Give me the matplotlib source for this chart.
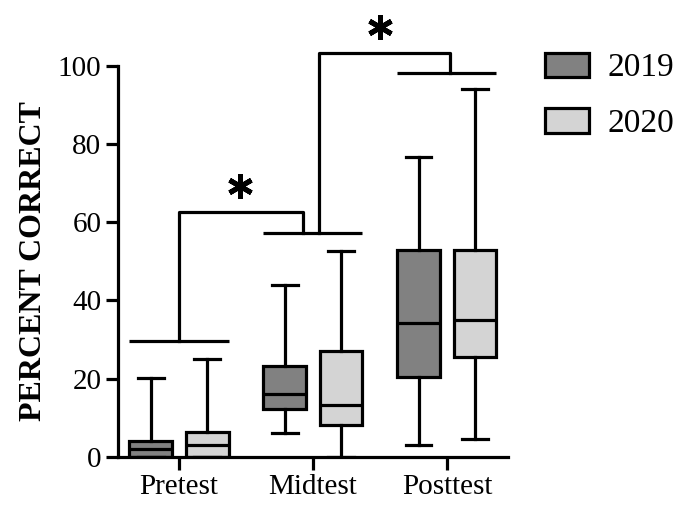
import numpy as np
import matplotlib.pyplot as plt
from matplotlib.patches import Patch

plt.rcParams['font.family'] = ['Liberation Serif', 'DejaVu Serif']

categories = ['Pretest', 'Midtest', 'Posttest']
years = ['2019', '2020']
colors = ['#818181', '#d4d4d4']

# box stats per year: whislo, q1, med, q3, whishi
whislo_2019 = [0, 6, 3]
q1_2019 = [0, 12.3, 20.4]
med_2019 = [2, 16, 34.2]
q3_2019 = [4, 23.3, 53]
whishi_2019 = [20.2, 44, 76.7]

whislo_2020 = [0, 0, 4.6]
q1_2020 = [0, 8.2, 25.6]
med_2020 = [3, 13.3, 35]
q3_2020 = [6.4, 27, 53]
whishi_2020 = [25, 52.7, 94.1]

# significance brackets (heights in percent)
base_lines = [29.7, 57.3, 98.2]
top_lines = [62.7, 103.3]
star_y = [69.3, 110]

lw = 2.3
fig = plt.figure(figsize=(6.9, 5.24), dpi=100)
ax = fig.add_axes([0.171, 0.128, 0.565, 0.836])

x = np.arange(len(categories))
off = 0.21
width = 0.32
for j, (lo, q1, med, q3, hi) in enumerate([
        (whislo_2019, q1_2019, med_2019, q3_2019, whishi_2019),
        (whislo_2020, q1_2020, med_2020, q3_2020, whishi_2020)]):
    stats = []
    for i in range(len(categories)):
        stats.append(dict(whislo=lo[i], q1=q1[i], med=med[i], q3=q3[i],
                          whishi=hi[i], fliers=[]))
    pos = x + (j * 2 - 1) * off
    ax.bxp(stats, positions=pos, widths=width, patch_artist=True,
           showfliers=False, manage_ticks=False,
           boxprops=dict(facecolor=colors[j], edgecolor='black', linewidth=lw),
           medianprops=dict(color='black', linewidth=lw),
           whiskerprops=dict(color='black', linewidth=lw),
           capprops=dict(color='black', linewidth=lw), capwidths=0.19)

# brackets
half = 0.37
for i, yb in enumerate(base_lines):
    ax.plot([x[i] - half, x[i] + half], [yb, yb], color='black', lw=lw,
            solid_capstyle='butt', clip_on=False)
xs1 = [x[0], x[0], 0.925, 0.925]
ax.plot(xs1, [base_lines[0], top_lines[0], top_lines[0], base_lines[1]],
        color='black', lw=lw, clip_on=False)
xs2 = [1.045, 1.045, 2.02, 2.02]
ax.plot(xs2, [base_lines[1], top_lines[1], top_lines[1], base_lines[2]],
        color='black', lw=lw, clip_on=False)
star_x = [np.mean(xs1[1:3]) - 0.01, np.mean(xs2[1:3]) - 0.03]
ax.plot(star_x, star_y, linestyle='none', marker=(6, 2, 0), markersize=18,
        markeredgewidth=3.6, color='black', clip_on=False)

ax.set_xlim(-0.455, 2.455)
ax.set_ylim(0, 112)
ax.spines['left'].set_bounds(0, 100)
ax.spines['top'].set_visible(False)
ax.spines['right'].set_visible(False)
for s in ['left', 'bottom']:
    ax.spines[s].set_linewidth(lw)
ax.set_yticks(np.arange(0, 101, 20))
ax.set_xticks(x)
ax.set_xticklabels(categories)
ax.tick_params(axis='both', width=lw, length=9, labelsize=21, pad=3)
ax.set_ylabel('PERCENT CORRECT', fontsize=23, fontweight='bold')
ax.yaxis.set_label_coords(-0.18, 50 / 112)

handles = [Patch(facecolor=c, edgecolor='black', linewidth=lw, label=y)
           for c, y in zip(colors, years)]
fig.legend(handles=handles, loc='upper left', bbox_to_anchor=(0.77, 0.925),
           frameon=False, fontsize=24, handlelength=1.33, handleheight=0.75,
           labelspacing=0.75, handletextpad=0.55, borderaxespad=0)

fig.savefig('out.png', dpi=100)
